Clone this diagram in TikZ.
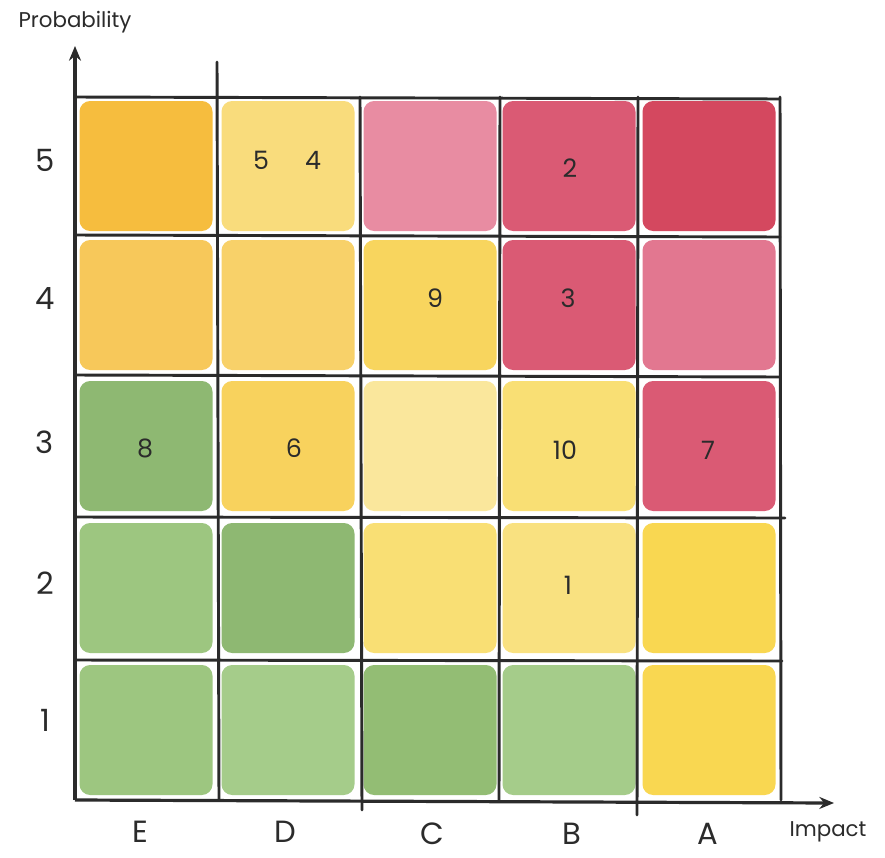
\documentclass[tikz,border=0pt]{standalone}
\usepackage{fontspec}
\setmainfont{Poppins}
\usetikzlibrary{arrows.meta}
\definecolor{orA}{HTML}{F6BD3E}
\definecolor{orB}{HTML}{F7C85A}
\definecolor{ylA}{HTML}{F9DC7C}
\definecolor{ylB}{HTML}{F8D55E}
\definecolor{ylC}{HTML}{FAE79C}
\definecolor{ylD}{HTML}{F9DF74}
\definecolor{ylE}{HTML}{F9D751}
\definecolor{pkA}{HTML}{E88CA2}
\definecolor{pkB}{HTML}{E27790}
\definecolor{rdA}{HTML}{DA5A74}
\definecolor{rdB}{HTML}{D4485F}
\definecolor{gnA}{HTML}{8EB872}
\definecolor{gnB}{HTML}{9DC680}
\definecolor{gnC}{HTML}{A5CC8A}
\definecolor{gnD}{HTML}{93BD74}
\definecolor{ink}{HTML}{2B2B2B}
\tikzset{
  cellfill/.style={fill=#1, draw=none, rounded corners=8pt, minimum width=133pt*0.75, minimum height=130pt*0.75, inner sep=0pt},
  gridline/.style={draw=ink, line width=2.2pt, line cap=round},
  axisline/.style={draw=ink, line width=2.4pt, -{Stealth[length=11pt,width=9pt]}},
  lbl/.style={font=\fontsize{23}{27}\selectfont, text=ink, inner sep=0pt},
  num/.style={font=\fontsize{19}{23}\selectfont, text=ink, inner sep=0pt},
  ttl/.style={font=\fontsize{16}{20}\selectfont, text=ink, inner sep=0pt}
}
\begin{document}
\begin{tikzpicture}[x=0.75pt,y=-0.75pt]
\useasboundingbox[fill=white] (0,0) rectangle (885,857);
% row 5
\node[cellfill=orA] (c15) at (146,166) {};
\node[cellfill=ylA] (c25) at (288,166) {};
\node[cellfill=pkA] (c35) at (430,166) {};
\node[cellfill=rdA] (c45) at (569,166) {};
\node[cellfill=rdB] (c55) at (709,166) {};
% row 4
\node[cellfill=orB] (c14) at (146,305) {};
\node[cellfill=orB!55!ylA] (c24) at (288,305) {};
\node[cellfill=ylB] (c34) at (430,305) {};
\node[cellfill=rdA] (c44) at (569,305) {};
\node[cellfill=pkB] (c54) at (709,305) {};
% row 3
\node[cellfill=gnA] (c13) at (146,446) {};
\node[cellfill=ylB!80!orB] (c23) at (288,446) {};
\node[cellfill=ylC] (c33) at (430,446) {};
\node[cellfill=ylD] (c43) at (569,446) {};
\node[cellfill=rdA] (c53) at (709,446) {};
% row 2
\node[cellfill=gnB] (c12) at (146,588) {};
\node[cellfill=gnA] (c22) at (288,588) {};
\node[cellfill=ylD] (c32) at (430,588) {};
\node[cellfill=ylD!70!ylC] (c42) at (569,588) {};
\node[cellfill=ylE] (c52) at (709,588) {};
% row 1
\node[cellfill=gnB] (c11) at (146,730) {};
\node[cellfill=gnC] (c21) at (288,730) {};
\node[cellfill=gnD] (c31) at (430,730) {};
\node[cellfill=gnC] (c41) at (569,730) {};
\node[cellfill=ylE] (c51) at (709,730) {};
% grid lines
\draw[gridline] (75,97) -- (780,99);
\draw[gridline] (75,235) -- (780,237);
\draw[gridline] (75,375) -- (780,377);
\draw[gridline] (75,517) -- (785,518);
\draw[gridline] (75,660) -- (782,661);
\draw[gridline] (217,62) -- (219,800);
\draw[gridline] (360,97) -- (362,810);
\draw[gridline] (500,97) -- (499,800);
\draw[gridline] (638,97) -- (637,815);
\draw[gridline] (780,97) -- (781,800);
% axes
\coordinate (org) at (75,800);
\coordinate (ytip) at (75,46);
\coordinate (xtip) at (834,803);
\draw[axisline] (org) -- (ytip);
\draw[axisline] (org) -- (xtip);
% axis titles
\node[ttl] (prob) at (75,22) {Probability};
\node[ttl] (imp) at (828,832) {Impact};
% row labels
\node[lbl] (r5) at (45,160) {5};
\node[lbl] (r4) at (45,299) {4};
\node[lbl] (r3) at (45,442) {3};
\node[lbl] (r2) at (45,583) {2};
\node[lbl] (r1) at (45,720) {1};
% column labels
\node[lbl] (kE) at (140,832) {E};
\node[lbl] (kD) at (285,832) {D};
\node[lbl] (kC) at (432,834) {C};
\node[lbl] (kB) at (572,834) {B};
\node[lbl] (kA) at (708,834) {A};
% risk numbers
\node[num] (n5) at (261,160) {5};
\node[num] (n4) at (313,160) {4};
\node[num] (n2) at (570,168) {2};
\node[num] (n9) at (435,298) {9};
\node[num] (n3) at (568,298) {3};
\node[num] (n8) at (145,448) {8};
\node[num] (n6) at (294,448) {6};
\node[num] (n10) at (565,450) {10};
\node[num] (n7) at (708,450) {7};
\node[num] (n1) at (568,585) {1};
\end{tikzpicture}
\end{document}
